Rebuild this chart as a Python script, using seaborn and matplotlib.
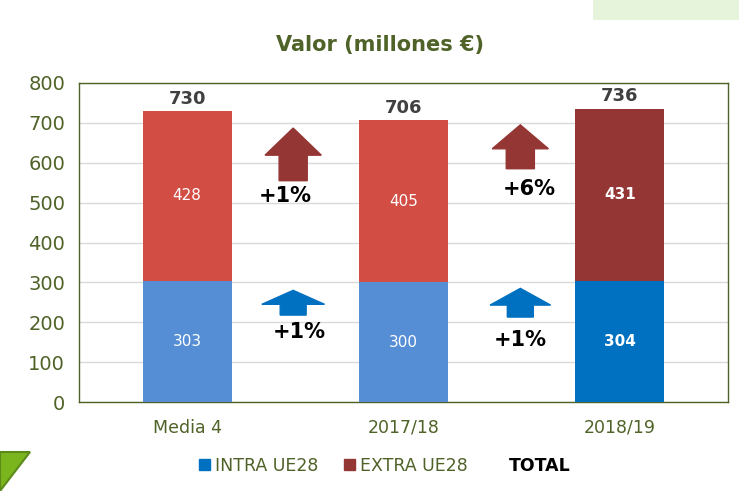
import numpy as np
import pandas as pd
import matplotlib
matplotlib.use("Agg")
import matplotlib.pyplot as plt
from matplotlib.patches import Patch, Polygon, Rectangle
import seaborn as sns

# data
categories = ["Media 4", "2017/18", "2018/19"]
intra = [303, 300, 304]
extra = [428, 405, 431]
totals = [730, 706, 736]
intra_colors = ["#558ED5", "#558ED5", "#0070C0"]
extra_colors = ["#D24E45", "#D24E45", "#943634"]
changes = ["+1%", "+6%"]          # EXTRA UE28
changes_intra = ["+1%", "+1%"]    # INTRA UE28

green = "#4F6228"

sns.set_style("white")
plt.rcParams["font.family"] = ["DejaVu Sans"]

fig = plt.figure(figsize=(7.39, 4.91), dpi=100)
ax = fig.add_axes([79 / 739, 1 - 402 / 491, (728 - 79) / 739, (402 - 83) / 491])

df = pd.DataFrame({"cat": categories, "intra": intra, "extra": extra, "total": totals})

# stacked bars: full height in extra colour, intra drawn over it
sns.barplot(data=df, x="cat", y="total", hue="cat", palette=extra_colors,
            width=0.41, legend=False, ax=ax, zorder=2, saturation=1, linewidth=0)
sns.barplot(data=df, x="cat", y="intra", hue="cat", palette=intra_colors,
            width=0.41, legend=False, ax=ax, zorder=3, saturation=1, linewidth=0)

ax.set_ylim(0, 800)
ax.set_xlim(-0.5, 2.5)
ax.set_yticks(range(0, 801, 100))
ax.yaxis.grid(True, color="#D9D9D9", lw=1)
ax.set_axisbelow(True)
ax.set_xlabel("")
ax.set_ylabel("")
ax.tick_params(axis="y", colors=green, labelsize=14, length=0, pad=10)
ax.tick_params(axis="x", colors=green, labelsize=12.5, length=0, pad=12)
for s in ax.spines.values():
    s.set_color(green)
    s.set_linewidth(1)

# value labels
for i in range(len(categories)):
    bold = "bold" if i == 2 else "normal"
    ax.text(i, intra[i] / 2, str(intra[i]), ha="center", va="center",
            color="white", fontsize=11, fontweight=bold, zorder=5)
    ax.text(i, intra[i] + extra[i] / 2, str(extra[i]), ha="center", va="center",
            color="white", fontsize=11, fontweight=bold, zorder=5)
    ax.text(i, totals[i] + 8, str(totals[i]), ha="center", va="bottom",
            color="#404040", fontsize=13, fontweight="bold", zorder=5)

# growth arrows
arrow_x = [0.49, 1.54]
ax.arrow(arrow_x[0], 555, 0, 132, width=0.13, head_width=0.26, head_length=68,
         length_includes_head=True, color="#943634", zorder=4)
ax.arrow(arrow_x[1], 585, 0, 110, width=0.13, head_width=0.26, head_length=60,
         length_includes_head=True, color="#943634", zorder=4)
ax.arrow(arrow_x[0], 218, 0, 62, width=0.12, head_width=0.29, head_length=35,
         length_includes_head=True, color="#0070C0", zorder=4)
ax.arrow(arrow_x[1], 213, 0, 72, width=0.12, head_width=0.28, head_length=42,
         length_includes_head=True, color="#0070C0", zorder=4)

ax.text(0.455, 517, changes[0], ha="center", va="center", fontsize=15,
        fontweight="bold", color="black")
ax.text(1.58, 535, changes[1], ha="center", va="center", fontsize=15,
        fontweight="bold", color="black")
ax.text(0.52, 175, changes_intra[0], ha="center", va="center", fontsize=15,
        fontweight="bold", color="black")
ax.text(1.54, 155, changes_intra[1], ha="center", va="center", fontsize=15,
        fontweight="bold", color="black")

fig.text(380 / 739, 1 - 45 / 491, "Valor (millones €)", ha="center", va="center",
         fontsize=15, fontweight="bold", color=green)

# legend
handles = [Patch(color="#0070C0"), Patch(color="#943634"), Patch(color="none")]
leg = fig.legend(handles, ["INTRA UE28", "EXTRA UE28", "TOTAL"], loc="center",
                 bbox_to_anchor=(385 / 739, 1 - 466 / 491), ncol=3, frameon=False,
                 fontsize=12.5, handlelength=0.6, handleheight=0.6, handletextpad=0.3,
                 columnspacing=1.5)
for t in leg.get_texts():
    t.set_color(green)
leg.get_texts()[2].set_color("black")
leg.get_texts()[2].set_fontweight("bold")

# slide decorations
fig.patches.append(Polygon([[0, 1 - 452 / 491], [30 / 739, 1 - 452 / 491], [0, 1 - 491 / 491]],
                           closed=True, transform=fig.transFigure, facecolor="#7AB51D",
                           edgecolor="#5C8A1A", lw=1.5, figure=fig))
fig.patches.append(Rectangle((593 / 739, 1 - 20 / 491), 146 / 739, 20 / 491,
                             transform=fig.transFigure, facecolor="#E6F4DC",
                             edgecolor="none", figure=fig))

fig.savefig("out.png", dpi=100)
